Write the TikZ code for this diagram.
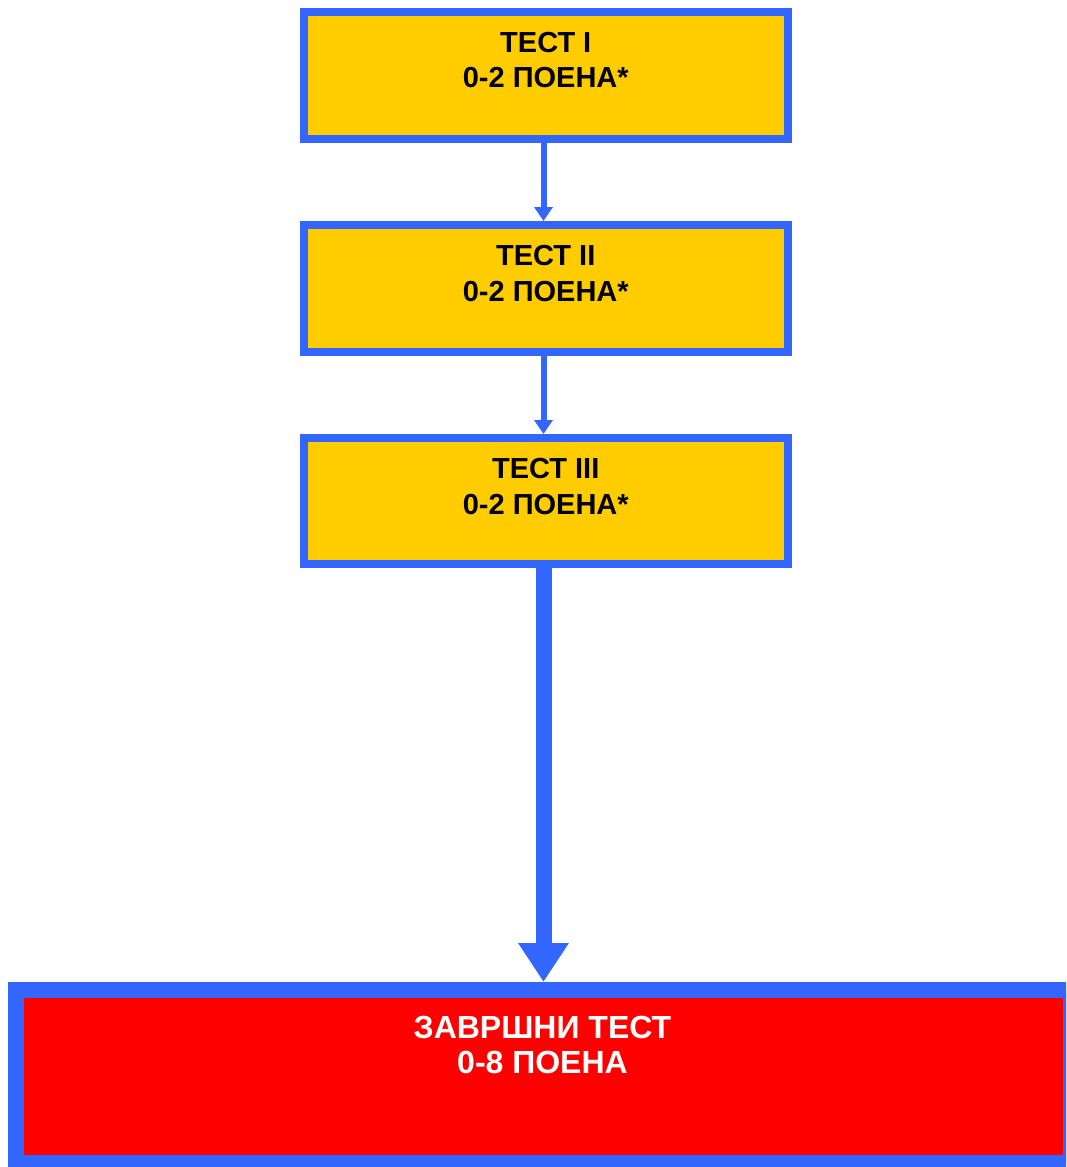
\documentclass[tikz,border=0pt]{standalone}
\usepackage{fontspec}
\setmainfont{Liberation Sans}
\usetikzlibrary{arrows.meta,calc}
\definecolor{bordblue}{HTML}{3366FF}
\definecolor{boxyellow}{HTML}{FFCC00}
\definecolor{boxred}{HTML}{FF0000}
\tikzset{
  testbox/.style={draw=bordblue, fill=boxyellow, line width=8pt, rectangle, inner sep=0pt},
  finalbox/.style={draw=bordblue, fill=boxred, line width=16pt, rectangle, inner sep=0pt},
  txt/.style={anchor=north, inner sep=0pt, align=center, font=\fontsize{29}{35.5}\selectfont\bfseries},
  bigtxt/.style={anchor=north, inner sep=0pt, align=center, text=white, font=\fontsize{32}{34.5}\selectfont\bfseries},
  thinarrow/.style={draw=bordblue, line width=6pt, -{Triangle[width=18pt,length=14pt]}},
  thickarrow/.style={draw=bordblue, line width=16pt, -{Triangle[width=48pt,length=39pt]}}
}
\begin{document}
\begin{tikzpicture}[x=1pt,y=-1pt]
\useasboundingbox (0,0) rectangle (1066,1167);
\begin{scope}
\clip (0,0) rectangle (1066,1167);
\node[testbox, minimum width=483.5pt, minimum height=127.5pt] (b1) at (545.75,75.25) {};
\node[testbox, minimum width=483.5pt, minimum height=127pt] (b2) at (545.75,288.5) {};
\node[testbox, minimum width=483.5pt, minimum height=126pt] (b3) at (545.75,501) {};
\node[finalbox, minimum width=1055pt, minimum height=173pt] (b4) at (543.5,1076.5) {};
\end{scope}
\node[txt] (t1) at ($(b1.north)+(0,24.5)$) {ТЕСТ I\\0-2 ПОЕНА*};
\node[txt] (t2) at ($(b2.north)+(0,24.5)$) {ТЕСТ II\\0-2 ПОЕНА*};
\node[txt] (t3) at ($(b3.north)+(0,24.5)$) {ТЕСТ III\\0-2 ПОЕНА*};
\node[bigtxt] (t4) at ($(b4.north)+(-1,34)$) {ЗАВРШНИ ТЕСТ\\0-8 ПОЕНА};
\draw[thinarrow] (b1.south -| b4.center) -- (b2.north -| b4.center);
\draw[thinarrow] (b2.south -| b4.center) -- (b3.north -| b4.center);
\draw[thickarrow] (b3.south -| b4.center) -- (b4.north);
\end{tikzpicture}
\end{document}
